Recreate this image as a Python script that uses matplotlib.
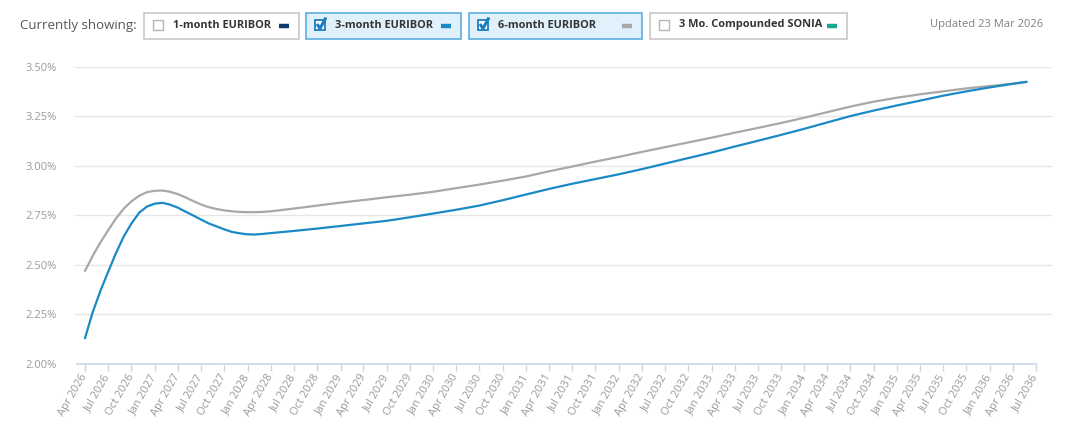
import numpy as np
import pandas as pd
import matplotlib
matplotlib.use("Agg")
import matplotlib.pyplot as plt
import matplotlib.dates as mdates
from matplotlib.patches import Rectangle
from matplotlib.ticker import FuncFormatter

plt.rcParams['font.family'] = ['Open Sans', 'DejaVu Sans']

# --- forecast data (monthly for the first two years, then quarterly) ---
dates = (list(pd.date_range("2026-04-01", "2028-04-01", freq="MS"))
         + list(pd.date_range("2028-07-01", "2036-04-01", freq="QS-JAN"))
         + [pd.Timestamp("2036-05-25")])

euribor_3m = [2.13, 2.26, 2.37, 2.465, 2.56, 2.645, 2.71, 2.765, 2.795, 2.81,
              2.814, 2.805, 2.79, 2.77, 2.75, 2.73, 2.71, 2.695, 2.68, 2.667,
              2.66, 2.655, 2.654, 2.657, 2.661,
              2.672, 2.684, 2.697, 2.71, 2.723, 2.741, 2.76, 2.779, 2.80, 2.827,
              2.856, 2.884, 2.91, 2.934, 2.958, 2.984, 3.012, 3.04, 3.068, 3.098,
              3.127, 3.157, 3.188, 3.22, 3.252, 3.28, 3.306, 3.33, 3.355, 3.377,
              3.397, 3.415, 3.425]

euribor_6m = [2.47, 2.545, 2.615, 2.675, 2.735, 2.785, 2.822, 2.85, 2.868, 2.875,
              2.876, 2.87, 2.858, 2.842, 2.823, 2.806, 2.792, 2.783, 2.776, 2.771,
              2.768, 2.767, 2.767, 2.768, 2.771,
              2.785, 2.80, 2.815, 2.828, 2.842, 2.855, 2.87, 2.888, 2.906, 2.926,
              2.947, 2.973, 2.997, 3.022, 3.046, 3.071, 3.095, 3.119, 3.143, 3.168,
              3.192, 3.217, 3.244, 3.272, 3.30, 3.325, 3.345, 3.362, 3.377, 3.392,
              3.404, 3.416, 3.425]

legend_labels = ["1-month EURIBOR", "3-month EURIBOR", "6-month EURIBOR", "3 Mo. Compounded SONIA"]
legend_colors = ["#0b3b6f", "#1a8ac6", "#a8a8a8", "#17a98f"]
legend_checked = [False, True, True, False]
updated_text = "Updated 23 Mar 2026"

W, H = 1080, 447
fig = plt.figure(figsize=(W / 100, H / 100), dpi=100)

# --- main chart ---
ax = fig.add_axes([75 / W, 1 - 364 / H, (1052 - 75) / W, (364 - 67) / H])
ax.plot(dates, euribor_6m, color="#a8a8a8", lw=1.6, solid_capstyle="round", solid_joinstyle="round")
ax.plot(dates, euribor_3m, color="#1a8ac6", lw=1.6, solid_capstyle="round", solid_joinstyle="round")

x0 = mdates.date2num(pd.Timestamp("2026-04-01")) - 10 * 3.93
x1 = mdates.date2num(pd.Timestamp("2036-07-01")) + 16 * 3.93
ax.set_xlim(x0, x1)
ax.set_ylim(2.0, 3.5)

ax.set_yticks(np.arange(2.0, 3.51, 0.25))
ax.yaxis.set_major_formatter(FuncFormatter(lambda v, p: f"{v:.2f}%"))
ax.grid(axis="y", color="#e6e6e6", lw=1)
ax.get_ygridlines()[0].set_visible(False)
ax.set_axisbelow(True)

ax.xaxis.set_major_locator(mdates.MonthLocator(bymonth=[1, 4, 7, 10]))
ax.xaxis.set_major_formatter(mdates.DateFormatter("%b %Y"))
ax.tick_params(axis="x", direction="out", length=5, width=1, color="#ccd6eb",
               labelsize=8, labelcolor="#9a9a9a", pad=3)
ax.tick_params(axis="y", length=0, labelsize=8, labelcolor="#9a9a9a", pad=13)
for lab in ax.get_xticklabels():
    lab.set_rotation(60)
    lab.set_ha("right")
    lab.set_va("center")
    lab.set_rotation_mode("anchor")

for s in ax.spines.values():
    s.set_visible(False)
ax.plot([x0 + 2 * 3.93, mdates.date2num(pd.Timestamp("2036-07-01"))], [2.0, 2.0],
        color="#ccd6eb", lw=1.2, clip_on=False, zorder=1)

# --- header (pixel coordinates) ---
hd = fig.add_axes([0, 0, 1, 1])
hd.set_xlim(0, W)
hd.set_ylim(H, 0)
hd.axis("off")

hd.text(20, 25, "Currently showing:", fontsize=9.5, color="#555555", va="center", ha="left")

boxes = [(144, 299), (306, 461), (469, 642), (650, 847)]
for (bx0, bx1), label, col, chk in zip(boxes, legend_labels, legend_colors, legend_checked):
    face = "#e1f1fb" if chk else "white"
    edge = "#5aaee0" if chk else "#c8c8c8"
    hd.add_patch(Rectangle((bx0, 12.5), bx1 - bx0, 26, facecolor=face, edgecolor=edge, lw=1.2))
    # checkbox
    if chk:
        hd.add_patch(Rectangle((bx0 + 9, 20), 10, 10, facecolor="white", edgecolor="#1a7fc1", lw=1.3))
        hd.plot([bx0 + 11, bx0 + 14, bx0 + 20], [24, 28.5, 17.5], color="#1a7fc1", lw=2.2,
                solid_capstyle="butt")
    else:
        hd.add_patch(Rectangle((bx0 + 9, 20), 10, 10, facecolor="white", edgecolor="#b5b5b5", lw=1))
    hd.text(bx0 + 29, 25, label, fontsize=7.9, fontweight="bold", color="#333333",
            va="center", ha="left")
    hd.plot([bx1 - 20, bx1 - 10], [26, 26], color=col, lw=3.2, solid_capstyle="butt")

hd.text(1043, 25, updated_text, fontsize=8, color="#808080", va="center", ha="right")

fig.savefig("out.png", dpi=100)
